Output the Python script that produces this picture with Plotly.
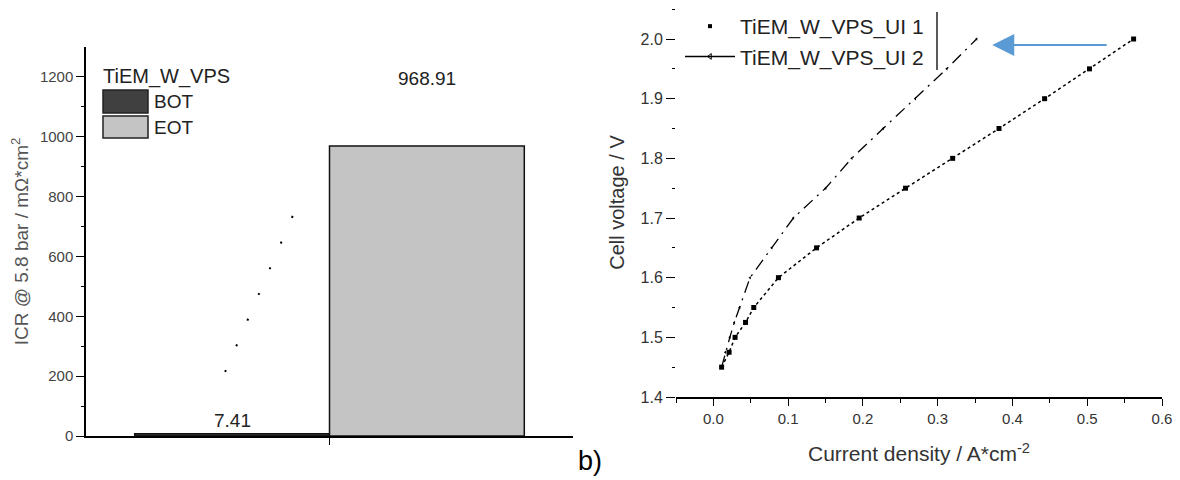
import plotly.graph_objects as go

# ---------------- data ----------------
# left panel: ICR bars
icr_categories = ["BOT", "EOT"]
icr_values = [7.41, 968.91]
icr_colors = ["#404040", "#c4c4c4"]
legend_title_left = "TiEM_W_VPS"

# stray dotted line visible in the left panel
stray_x = [0.964, 1.34]
stray_y = [214, 779]

# right panel: polarisation curves
ui1_j = [0.011, 0.021, 0.029, 0.043, 0.054, 0.087, 0.138, 0.195, 0.257, 0.320, 0.382, 0.443, 0.503, 0.562]
ui1_v = [1.45, 1.475, 1.50, 1.525, 1.55, 1.60, 1.65, 1.70, 1.75, 1.80, 1.85, 1.90, 1.95, 2.00]
ui2_j = [0.011, 0.016, 0.022, 0.028, 0.035, 0.049, 0.078, 0.107, 0.150, 0.185, 0.227, 0.270, 0.312, 0.352]
ui2_v = [1.45, 1.475, 1.50, 1.525, 1.55, 1.60, 1.65, 1.70, 1.75, 1.80, 1.85, 1.90, 1.95, 2.00]
ui1_name = "TiEM_W_VPS_UI 1"
ui2_name = "TiEM_W_VPS_UI 2"

# arrow (blue) pointing to end of UI 2
arrow_tail = (0.528, 1.99)
arrow_head = (0.373, 1.99)

# page has an 8px body margin; the figure fills the rest of the 1180x480 window
OFF = 8
W, H = 1180 - OFF, 480 - OFF
FONT = "Liberation Sans, Arial, sans-serif"


def px_x(p):
    return (p - OFF) / W


def px_y(p):
    return 1 - (p - OFF) / H


fig = go.Figure()

# ---------------- left panel ----------------
bar_pos = list(range(1, len(icr_values) + 1))
fig.add_trace(go.Bar(
    x=bar_pos, y=icr_values, width=1.0,
    marker=dict(color=icr_colors, line=dict(color="#111111", width=1.5)),
    showlegend=False, xaxis="x", yaxis="y",
))
fig.add_trace(go.Scatter(
    x=stray_x, y=stray_y, mode="lines",
    line=dict(color="black", width=2, dash="2px,26px"),
    showlegend=False, xaxis="x", yaxis="y",
))

# ---------------- right panel ----------------
fig.add_trace(go.Scatter(
    x=ui1_j, y=ui1_v, mode="lines+markers", name=ui1_name,
    line=dict(color="black", width=1.5, dash="dot"),
    marker=dict(symbol="square", size=5, color="black"),
    showlegend=False, xaxis="x2", yaxis="y2",
))
fig.add_trace(go.Scatter(
    x=ui2_j, y=ui2_v, mode="lines+markers", name=ui2_name,
    line=dict(color="black", width=1.3, dash="12px,6px,2px,6px"),
    marker=dict(symbol="triangle-left", size=3, color="black"),
    showlegend=False, xaxis="x2", yaxis="y2",
))
# legend-only entries
fig.add_trace(go.Scatter(
    x=[None], y=[None], mode="markers", name=ui1_name,
    marker=dict(symbol="square", size=4, color="black"),
    legend="legend2", xaxis="x2", yaxis="y2",
))
fig.add_trace(go.Scatter(
    x=[None], y=[None], mode="lines+markers", name=ui2_name,
    line=dict(color="black", width=1.5),
    marker=dict(symbol="triangle-left-open", size=5, color="black"),
    legend="legend2", xaxis="x2", yaxis="y2",
))

axis_common = dict(showgrid=False, zeroline=False, linecolor="black", linewidth=1.5,
                   tickcolor="black", tickwidth=1.2, automargin=False)

annotations = []
# bar value labels
annotations.append(dict(x=bar_pos[0], y=icr_values[0], xref="x", yref="y",
                        text=f"{icr_values[0]:.2f}", showarrow=False, yanchor="bottom", yshift=1,
                        font=dict(family=FONT, size=19, color="#222")))
annotations.append(dict(x=bar_pos[1], y=icr_values[1], xref="x", yref="y",
                        text=f"{icr_values[1]:.2f}", showarrow=False, yanchor="middle", yshift=68,
                        font=dict(family=FONT, size=19, color="#222")))
# left legend (manual swatches)
annotations.append(dict(x=px_x(101), y=px_y(77), xref="paper", yref="paper", text=legend_title_left,
                        showarrow=False, xanchor="left", yanchor="middle",
                        font=dict(family=FONT, size=20, color="#222")))
for i, cat in enumerate(icr_categories):
    annotations.append(dict(x=px_x(152), y=px_y(101 + 26 * i), xref="paper", yref="paper", text=cat,
                            showarrow=False, xanchor="left", yanchor="middle",
                            font=dict(family=FONT, size=19, color="#222")))
# blue arrow
annotations.append(dict(x=arrow_head[0], y=arrow_head[1], ax=arrow_tail[0], ay=arrow_tail[1],
                        xref="x2", yref="y2", axref="x2", ayref="y2", text="",
                        showarrow=True, arrowhead=2, arrowsize=2.2, arrowwidth=2,
                        arrowcolor="#5b9bd5"))
# b) label
annotations.append(dict(x=px_x(590), y=px_y(461), xref="paper", yref="paper", text="b)",
                        showarrow=False, xanchor="center", yanchor="middle",
                        font=dict(family=FONT, size=27, color="black")))

shapes = []
for i, col in enumerate(icr_colors):
    shapes.append(dict(type="rect", xref="paper", yref="paper",
                       x0=px_x(103), x1=px_x(148), y0=px_y(90 + 26 * i), y1=px_y(113 + 25 * i),
                       fillcolor=col, line=dict(color="#222", width=1.5)))
# right legend border line
shapes.append(dict(type="line", xref="paper", yref="paper",
                   x0=px_x(937), x1=px_x(937), y0=px_y(12), y1=px_y(70),
                   line=dict(color="#222", width=1.5)))

fig.update_layout(
    width=W, height=H,
    margin=dict(l=0, r=0, t=0, b=0, pad=0, autoexpand=False),
    paper_bgcolor="white", plot_bgcolor="white",
    font=dict(family=FONT, color="#333"),
    barmode="overlay",
    xaxis=dict(**axis_common, domain=[px_x(86), px_x(573)], range=[0.25, 2.75],
               showline=True, tickvals=[1.5], ticks="outside", ticklen=7,
               showticklabels=False, anchor="y"),
    yaxis=dict(**axis_common, domain=[px_y(436), px_y(47)], range=[0, 1300],
               showline=True, ticks="outside", ticklen=8,
               tickvals=[0, 200, 400, 600, 800, 1000, 1200],
               minor=dict(tickvals=[100, 300, 500, 700, 900, 1100], ticks="outside",
                          ticklen=3, tickcolor="black"),
               tickfont=dict(family=FONT, size=15, color="#444"),
               title=dict(text="ICR @ 5.8 bar / mΩ*cm<sup>2</sup>", standoff=12,
                          font=dict(family=FONT, size=19, color="#555")),
               anchor="x"),
    xaxis2=dict(**axis_common, domain=[px_x(676), px_x(1162)], range=[-0.05, 0.6],
                showline=True, mirror=True, ticks="outside", ticklen=7, dtick=0.1, tick0=0,
                tickformat=".1f",
                minor=dict(dtick=0.05, ticks="outside", ticklen=4, tickcolor="black"),
                tickfont=dict(family=FONT, size=15, color="#333"),
                title=dict(text="Current density / A*cm<sup>-2</sup>", standoff=21,
                           font=dict(family=FONT, size=21, color="#333")),
                anchor="y2"),
    yaxis2=dict(**axis_common, domain=[px_y(397), px_y(8)], range=[1.4, 2.052],
                showline=False, ticks="outside", ticklen=9, dtick=0.1, tick0=1.4,
                tickformat=".1f",
                minor=dict(dtick=0.05, ticks="outside", ticklen=3, tickcolor="black"),
                tickfont=dict(family=FONT, size=16, color="#333"),
                title=dict(text="Cell voltage / V", standoff=10,
                           font=dict(family=FONT, size=20, color="#333")),
                anchor="x2"),
    yaxis3=dict(overlaying="y2", side="right", anchor="x2", range=[1.4, 2.052],
                showline=True, linecolor="black", linewidth=1.5, showgrid=False,
                zeroline=False, showticklabels=False, ticks="", automargin=False),
    legend2=dict(x=px_x(680), y=px_y(6), xanchor="left", yanchor="top",
                 bgcolor="rgba(0,0,0,0)", itemwidth=50, tracegroupgap=0,
                 font=dict(family=FONT, size=21, color="#222")),
    annotations=annotations,
    shapes=shapes,
)

fig.write_html("out.html")
